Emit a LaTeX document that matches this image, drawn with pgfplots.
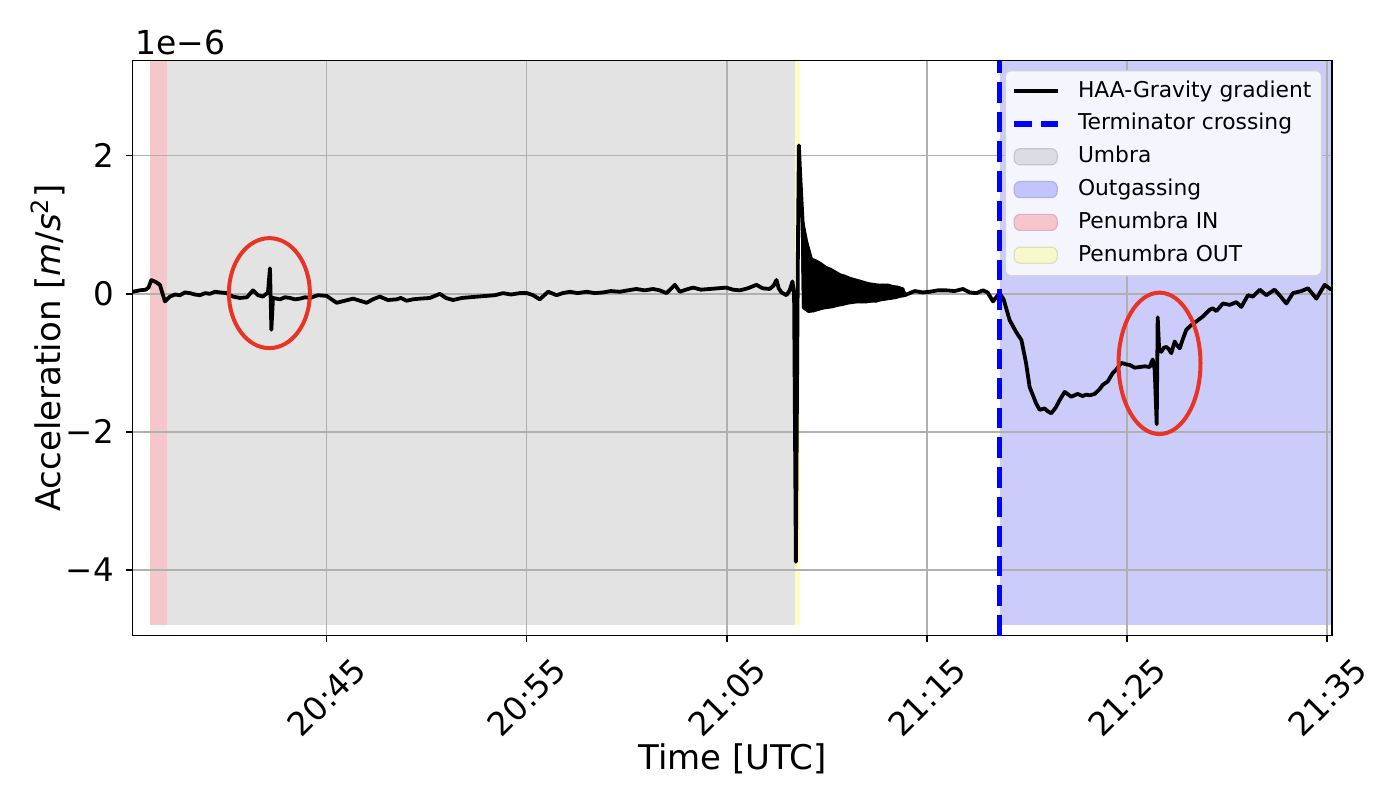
\documentclass[border=0pt]{standalone}
\usepackage{fontspec}
\setmainfont{DejaVu Sans}
\usepackage{pgfplots}
\pgfplotsset{compat=1.18}
\definecolor{umbra}{RGB}{227,227,227}
\definecolor{outgas}{RGB}{204,204,250}
\definecolor{penin}{RGB}{246,199,202}
\definecolor{penout}{RGB}{252,252,200}
\definecolor{gridc}{RGB}{176,176,176}
\definecolor{ellred}{RGB}{232,52,37}
\definecolor{legbg}{RGB}{245,245,254}
\definecolor{legedge}{RGB}{210,210,215}
\definecolor{lumbra}{RGB}{220,220,228}
\definecolor{loutgas}{RGB}{196,196,252}
\definecolor{lpenin}{RGB}{247,198,205}
\definecolor{lpenout}{RGB}{248,248,205}

\pgfplotstableread{
t v
35.31 0.03
35.66 0.05
35.96 0.06
36.10 0.09
36.24 0.20
36.47 0.17
36.67 0.13
36.92 -0.11
37.17 -0.04
37.42 -0.01
37.67 -0.02
37.92 0.02
38.17 0.01
38.42 -0.01
38.67 -0.02
38.92 0.01
39.17 0.00
39.42 0.03
39.67 0.02
40.00 0.01
40.32 -0.04
40.67 -0.06
41.02 -0.05
41.32 0.05
41.57 -0.02
41.82 -0.04
42.07 0.02
42.17 0.37
42.24 -0.52
42.32 -0.06
42.67 -0.08
42.92 -0.05
43.17 -0.06
43.42 -0.08
43.67 -0.07
43.92 -0.05
44.17 -0.06
44.57 -0.02
45.00 -0.03
45.50 -0.13
45.91 -0.10
46.33 -0.07
46.66 -0.10
47.00 -0.13
47.31 -0.08
47.66 -0.04
48.06 -0.09
48.50 -0.08
48.71 -0.06
49.00 -0.10
49.31 -0.08
49.66 -0.07
50.16 -0.06
50.66 0.00
50.96 -0.06
51.32 -0.09
51.76 -0.06
52.16 -0.05
52.56 -0.04
52.99 -0.03
53.41 -0.02
53.82 0.01
54.21 -0.01
54.66 0.01
55.01 0.01
55.32 -0.02
55.65 -0.08
56.07 0.03
56.49 -0.02
56.80 0.01
57.15 0.03
57.55 0.01
57.99 0.03
58.40 0.01
58.82 0.02
59.20 0.04
59.65 0.03
60.05 0.05
60.48 0.07
60.90 0.05
61.31 0.07
61.65 0.05
61.98 0.01
62.20 0.07
62.40 0.13
62.65 0.03
62.95 0.06
63.31 0.09
63.70 0.06
64.15 0.07
64.55 0.08
64.98 0.09
65.30 0.06
65.65 0.05
66.05 0.08
66.48 0.13
66.79 0.08
67.14 0.07
67.34 0.12
67.48 0.20
67.59 0.08
67.73 0.02
67.98 -0.02
68.14 0.05
68.28 0.18
68.36 0.00
68.45 -3.88
68.55 0.60
68.60 2.15
68.66 1.75
68.72 1.41
68.79 1.02
68.85 -0.20
68.97 0.75
69.09 -0.25
69.21 0.50
69.33 -0.24
69.45 0.47
69.57 -0.22
69.69 0.43
69.81 -0.20
69.93 0.38
70.05 -0.19
70.17 0.35
70.29 -0.18
70.41 0.31
70.53 -0.16
70.65 0.27
70.77 -0.15
70.89 0.25
71.01 -0.13
71.13 0.22
71.25 -0.12
71.37 0.20
71.49 -0.11
71.61 0.18
71.73 -0.11
71.85 0.16
71.97 -0.11
72.09 0.14
72.21 -0.10
72.33 0.13
72.45 -0.10
72.57 0.12
72.69 -0.08
72.81 0.12
72.93 -0.07
73.05 0.12
73.17 -0.06
73.29 0.10
73.41 -0.05
73.53 0.09
73.65 -0.03
73.77 0.07
73.89 -0.02
74.39 0.04
74.79 0.02
75.14 0.03
75.54 0.05
75.97 0.05
76.38 0.04
76.80 0.07
77.13 0.02
77.47 0.01
77.80 0.05
78.03 0.02
78.30 -0.11
78.63 0.01
78.83 -0.08
79.13 -0.38
79.45 -0.55
79.72 -0.67
79.95 -1.00
80.13 -1.35
80.46 -1.59
80.63 -1.68
80.88 -1.66
81.03 -1.70
81.21 -1.73
81.43 -1.65
81.63 -1.54
81.88 -1.42
82.21 -1.49
82.53 -1.45
82.78 -1.48
82.96 -1.46
83.13 -1.47
83.38 -1.45
83.63 -1.38
83.78 -1.32
84.03 -1.27
84.28 -1.15
84.48 -1.09
84.71 -1.00
84.93 -1.02
85.13 -1.03
85.38 -1.07
85.63 -1.06
85.88 -1.05
86.13 -1.06
86.28 -0.95
86.38 -1.10
86.48 -1.89
86.53 -0.34
86.60 -0.80
86.71 -0.84
86.83 -0.78
86.96 -0.77
87.08 -0.80
87.21 -0.86
87.38 -0.69
87.48 -0.74
87.63 -0.79
87.78 -0.66
87.96 -0.52
88.18 -0.46
88.46 -0.40
88.78 -0.33
89.13 -0.23
89.28 -0.21
89.46 -0.25
89.79 -0.14
90.13 -0.16
90.46 -0.12
90.71 -0.19
91.04 -0.02
91.29 -0.04
91.63 0.06
91.96 -0.02
92.37 0.06
92.62 -0.02
92.96 -0.14
93.29 0.01
93.71 0.04
94.04 0.08
94.46 -0.07
94.87 0.13
95.21 0.06
}\haadata

% envelope of the dense oscillation after the spike (upper edge, then lower edge backwards)
\pgfplotstableread{
t v
68.79 1.02
68.97 0.75
69.21 0.50
69.45 0.47
69.69 0.43
69.93 0.38
70.17 0.35
70.41 0.31
70.65 0.27
70.89 0.25
71.13 0.22
71.37 0.20
71.61 0.18
71.85 0.16
72.09 0.14
72.33 0.13
72.57 0.12
72.81 0.12
73.05 0.12
73.29 0.10
73.53 0.09
73.77 0.07
73.89 -0.02
73.65 -0.03
73.41 -0.05
73.17 -0.06
72.93 -0.07
72.69 -0.08
72.45 -0.10
72.21 -0.10
71.97 -0.11
71.73 -0.11
71.49 -0.11
71.25 -0.12
71.01 -0.13
70.77 -0.15
70.53 -0.16
70.29 -0.18
70.05 -0.19
69.81 -0.20
69.57 -0.22
69.33 -0.24
69.09 -0.25
68.85 -0.20
}\banddata

\begin{document}
\begin{tikzpicture}
\begin{axis}[
  name=ax, set layers, scale only axis,
  width=599.65pt, height=287.5pt,
  xmin=35.31, xmax=95.24, ymin=-4.951, ymax=3.376,
  xtick={45,55,65,75,85,95},
  xticklabels={20:45,20:55,21:05,21:15,21:25,21:35},
  ytick={-4,-2,0,2}, yticklabels={−4,−2,0,2},
  tick align=outside, tick pos=left,
  major tick length=3.25pt,
  every tick/.style={black, line width=0.75pt},
  axis line style={line width=0.75pt, black},
  grid=major, major grid style={gridc, line width=0.75pt},
  ticklabel style={font=\fontsize{16.25pt}{19.5pt}\selectfont},
  xticklabel style={yshift=-27.5pt, rotate=45, anchor=center, inner sep=0pt},
  yticklabel style={anchor=east, inner sep=0pt, xshift=-6pt},
  every axis x label/.style={at={([yshift=-61.65pt]axis description cs:0.5,0)}, anchor=center, inner sep=0pt, font=\fontsize{17pt}{20pt}\selectfont},
  every axis y label/.style={at={([xshift=-42.35pt]axis description cs:0,0.5)}, rotate=90, anchor=center, inner sep=0pt, font=\fontsize{17pt}{20pt}\selectfont},
  xlabel={Time [UTC]},
  ylabel={Acceleration [\textit{m}/\textit{s}\textsuperscript{2}]},
  legend cell align=left,
  legend style={at={([xshift=-5pt,yshift=-4.7pt]axis description cs:1,1)}, anchor=north east,
    fill=legbg, draw=legedge, line width=0.6pt, rounded corners=3pt,
    font=\fontsize{10.9pt}{13pt}\selectfont,
    inner xsep=3pt, inner ysep=3pt, row sep=1.9pt, column sep=6.5pt,
    nodes={inner sep=2pt, text height=8.2pt, text depth=2.3pt}},
]
\addlegendimage{legend image code/.code={\draw[black, line width=1.9pt] (0pt,0pt) -- (22pt,0pt);}}
\addlegendentry{HAA-Gravity gradient}
\addlegendimage{legend image code/.code={\draw[blue, line width=2.8pt, dash pattern=on 9pt off 4.5pt] (0pt,0pt) -- (22pt,0pt);}}
\addlegendentry{Terminator crossing}
\addlegendimage{legend image code/.code={\draw[fill=lumbra, draw=lumbra!90!black] (0pt,-4pt) rectangle (21.5pt,4pt);}}
\addlegendentry{Umbra}
\addlegendimage{legend image code/.code={\draw[fill=loutgas, draw=loutgas!90!black] (0pt,-4pt) rectangle (21.5pt,4pt);}}
\addlegendentry{Outgassing}
\addlegendimage{legend image code/.code={\draw[fill=lpenin, draw=lpenin!90!black] (0pt,-4pt) rectangle (21.5pt,4pt);}}
\addlegendentry{Penumbra IN}
\addlegendimage{legend image code/.code={\draw[fill=lpenout, draw=lpenout!90!black] (0pt,-4pt) rectangle (21.5pt,4pt);}}
\addlegendentry{Penumbra OUT}

\addplot[forget plot, on layer=axis background, fill=penin, draw=none] coordinates {(36.17,-4.8) (37.0,-4.8) (37.0,3.376) (36.17,3.376)} -- cycle;
\addplot[forget plot, on layer=axis background, fill=umbra, draw=none] coordinates {(37.0,-4.8) (68.43,-4.8) (68.43,3.376) (37.0,3.376)} -- cycle;
\addplot[forget plot, on layer=axis background, fill=penout, draw=none] coordinates {(68.43,-4.8) (68.68,-4.8) (68.68,3.376) (68.43,3.376)} -- cycle;
\addplot[forget plot, on layer=axis background, fill=outgas, draw=none] coordinates {(78.63,-4.8) (95.21,-4.8) (95.21,3.376) (78.63,3.376)} -- cycle;

\addplot[forget plot, fill=black, draw=black, line width=1.9pt, line join=round] table[x=t, y=v] {\banddata} -- cycle;
\addplot[forget plot, black, line width=1.9pt, line join=round, line cap=round] table[x=t, y=v] {\haadata};
\addplot[forget plot, blue, line width=2.8pt, dash pattern=on 10.3pt off 4.5pt] coordinates {(78.63,-4.951) (78.63,3.376)};

\draw[ellred, line width=2pt] (axis cs:42.14,0.01) ellipse [x radius=20.25pt, y radius=27.5pt];
\draw[ellred, line width=2pt] (axis cs:86.62,-1.007) ellipse [x radius=20.5pt, y radius=35.35pt];
\end{axis}
\node[anchor=base west, inner sep=0pt, font=\fontsize{16.5pt}{19.5pt}\selectfont] at ([xshift=1.1pt,yshift=2.85pt]ax.north west) {1e−6};
\pgfresetboundingbox
\path[use as bounding box] ([shift={(-66.35pt,-78.15pt)}]ax.south west) rectangle ([shift={(24.5pt,30.35pt)}]ax.north east);
\end{tikzpicture}
\end{document}
